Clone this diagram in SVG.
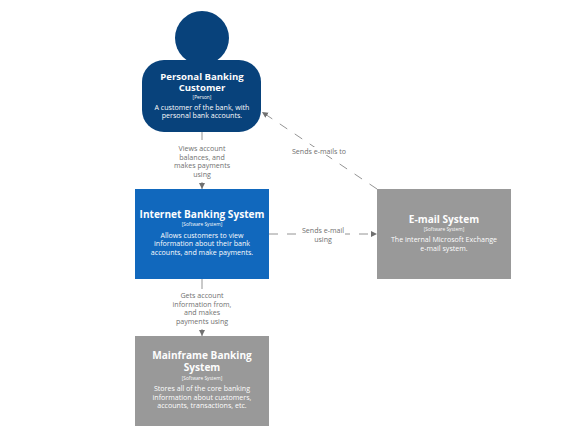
<svg xmlns="http://www.w3.org/2000/svg" width="569" height="444" viewBox="0 0 569 444">
<style>
text{font-family:"Open Sans","Noto Sans",sans-serif;text-anchor:middle;opacity:.99}
.t{font-size:10.1px;font-weight:700;fill:#fff}
.p{font-size:9.6px}
.k{font-size:4.8px;fill:#fff}
.d{font-size:7.1px;fill:#fff}
.l{font-size:7.1px;fill:#707070}
.c{fill:none;stroke:#707070;stroke-width:.75}
.dash{stroke-dasharray:9 9}
.g{fill:#999}
.bg{fill:#fff}
</style>
<defs><marker id="a" markerWidth="7" markerHeight="7" refX="6" refY="3" orient="auto" markerUnits="userSpaceOnUse"><path d="M0 0L6 3L0 6Z" fill="#707070"/></marker></defs>
<rect width="569" height="444" fill="#fff"/>
<g id="connectors">
<path class="c" d="M202 132V189" marker-end="url(#a)"/>
<path class="c" d="M202 279V336" marker-end="url(#a)"/>
<path class="c dash" d="M269 234H377" marker-end="url(#a)"/>
<path class="c dash" d="M377 189L262 112" marker-end="url(#a)"/>
<rect class="bg" x="172" y="140" width="60" height="42"/>
<rect class="bg" x="172" y="289" width="60" height="40"/>
<rect class="bg" x="301" y="226" width="44" height="18"/>
<rect class="bg" x="292" y="147" width="54" height="8"/>
<g class="lbl">
<text class="l" x="202" y="151">Views account</text>
<text class="l" x="202" y="159.500">balances, and</text>
<text class="l" x="202" y="168">makes payments</text>
<text class="l" x="202" y="176.500">using</text>
<text class="l" x="202" y="298">Gets account</text>
<text class="l" x="202" y="306.500">information from,</text>
<text class="l" x="202" y="315">and makes</text>
<text class="l" x="202" y="323.500">payments using</text>
<text class="l" x="323" y="232.500">Sends e-mail</text>
<text class="l" x="323" y="241.500">using</text>
<text class="l" x="319" y="153.500">Sends e-mails to</text>
</g>
</g>
<g id="customer">
<circle cx="202" cy="38" r="27" fill="#08427b"/>
<rect x="142" y="60" width="119" height="72" rx="22" fill="#08427b"/>
<text class="t p" x="202" y="80">Personal Banking</text>
<text class="t p" x="202" y="91">Customer</text>
<text class="k" x="202" y="99">[Person]</text>
<text class="d" x="202" y="109.500">A customer of the bank, with</text>
<text class="d" x="202" y="118">personal bank accounts.</text>
</g>
<g id="internet-banking">
<rect x="135" y="189" width="134" height="90" fill="#1168bd"/>
<text class="t" x="202" y="218">Internet Banking System</text>
<text class="k" x="202" y="226">[Software System]</text>
<text class="d" x="202" y="237.500">Allows customers to view</text>
<text class="d" x="202" y="246">information about their bank</text>
<text class="d" x="202" y="254.500">accounts, and make payments.</text>
</g>
<g id="mainframe">
<rect class="g" x="135" y="336" width="134" height="90"/>
<text class="t" x="202" y="359">Mainframe Banking</text>
<text class="t" x="202" y="370.500">System</text>
<text class="k" x="202" y="379.500">[Software System]</text>
<text class="d" x="202" y="391">Stores all of the core banking</text>
<text class="d" x="202" y="399.500">information about customers,</text>
<text class="d" x="202" y="408">accounts, transactions, etc.</text>
</g>
<g id="email">
<rect class="g" x="377" y="189" width="134" height="90"/>
<text class="t" x="444" y="222.500">E-mail System</text>
<text class="k" x="444" y="230.500">[Software System]</text>
<text class="d" x="444" y="242">The internal Microsoft Exchange</text>
<text class="d" x="444" y="251">e-mail system.</text>
</g>
</svg>
